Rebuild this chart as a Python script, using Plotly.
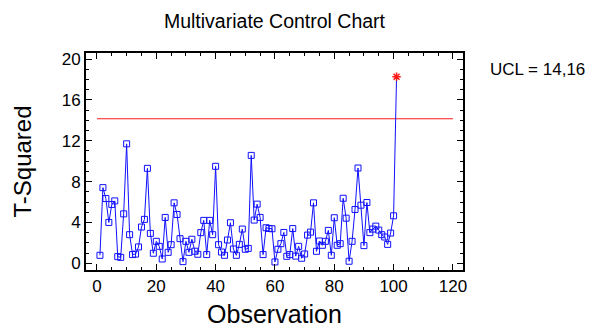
import plotly.graph_objects as go

observations = list(range(1, 102))
t_squared = [
    0.78, 7.41, 6.34, 4.00, 5.76, 6.11, 0.65, 0.58, 4.84, 11.70,
    2.80, 0.85, 0.90, 1.60, 3.55, 4.30, 9.30, 2.93, 0.98, 2.15,
    1.66, 0.42, 4.49, 1.07, 1.82, 5.92, 4.78, 2.41, 0.16, 2.15,
    1.07, 2.35, 1.18, 0.88, 3.00, 4.20, 0.85, 4.20, 2.80, 9.50,
    1.82, 1.10, 0.78, 2.28, 3.97, 1.40, 0.78, 1.85, 3.35, 1.37,
    1.46, 10.57, 4.23, 5.79, 4.49, 0.85, 3.48, 3.41, 3.38, 0.13,
    1.37, 1.92, 3.02, 0.68, 0.85, 3.40, 0.70, 1.66, 0.49, 0.91,
    2.76, 3.05, 5.92, 1.17, 2.18, 1.76, 2.15, 3.22, 0.78, 4.46,
    1.76, 1.92, 6.37, 4.42, 0.20, 2.15, 5.27, 9.33, 5.69, 1.73,
    5.95, 3.00, 3.35, 3.64, 3.25, 2.80, 2.57, 1.85, 2.96, 4.65,
    18.27,
]
ucl = 14.16
ucl_label = "UCL = 14,16"
x_ticks = [0, 20, 40, 60, 80, 100, 120]
y_ticks = [0, 4, 8, 12, 16, 20]

FONT = "Liberation Sans, Arial, sans-serif"
BLUE = "#1010ff"
RED = "#ff1a1a"

in_ctrl_x = [o for o, v in zip(observations, t_squared) if v <= ucl]
in_ctrl_y = [v for v in t_squared if v <= ucl]
out_x = [o for o, v in zip(observations, t_squared) if v > ucl]
out_y = [v for v in t_squared if v > ucl]

fig = go.Figure()
fig.add_trace(go.Scatter(
    x=[x_ticks[0], x_ticks[-1]], y=[ucl, ucl], mode="lines",
    line=dict(color=RED, width=1.2), hoverinfo="skip", showlegend=False))
fig.add_trace(go.Scatter(
    x=observations, y=t_squared, mode="lines",
    line=dict(color=BLUE, width=1), showlegend=False))
fig.add_trace(go.Scatter(
    x=in_ctrl_x, y=in_ctrl_y, mode="markers",
    marker=dict(symbol="square-open", size=6, color=BLUE, line=dict(width=1, color=BLUE)),
    showlegend=False))
fig.add_trace(go.Scatter(
    x=out_x, y=out_y, mode="markers",
    marker=dict(symbol="asterisk-open", size=7, color=RED, line=dict(width=1.5, color=RED)),
    showlegend=False))

axis_common = dict(
    showgrid=False, zeroline=False, showline=True, linecolor="black", linewidth=2,
    mirror="ticks", ticks="inside", ticklen=6, tickwidth=1, tickcolor="black",
    tickfont=dict(family=FONT, size=17, color="black"), automargin=False,
)

fig.update_xaxes(
    range=[-3.7, 123.4], tickvals=x_ticks, ticktext=[str(v) for v in x_ticks],
    minor=dict(dtick=5, tick0=0, ticks="inside", ticklen=3, tickcolor="black", showgrid=False),
    title=dict(text="Observation", font=dict(family=FONT, size=25, color="black"), standoff=13),
    **axis_common)
fig.update_yaxes(
    range=[-0.66, 20.6], tickvals=y_ticks, ticktext=[str(v) for v in y_ticks],
    minor=dict(dtick=1, tick0=0, ticks="inside", ticklen=3, tickcolor="black", showgrid=False),
    title=dict(text="T-Squared", font=dict(family=FONT, size=24, color="black"), standoff=23),
    **axis_common)

fig.add_annotation(
    x=1.065, xref="paper", y=19.0, yref="y", text=ucl_label, showarrow=False,
    xanchor="left", yanchor="middle", font=dict(family=FONT, size=17, color="black"))

fig.update_layout(
    width=591, height=328,
    margin=dict(l=86, r=128, t=53, b=58, autoexpand=False),
    paper_bgcolor="white", plot_bgcolor="white",
    title=dict(text="Multivariate Control Chart", x=0.5, xref="paper", xanchor="center",
               y=1 - 21 / 328, yref="container", yanchor="middle",
               font=dict(family=FONT, size=19.5, color="black")),
    showlegend=False,
)

fig.write_html("out.html")
